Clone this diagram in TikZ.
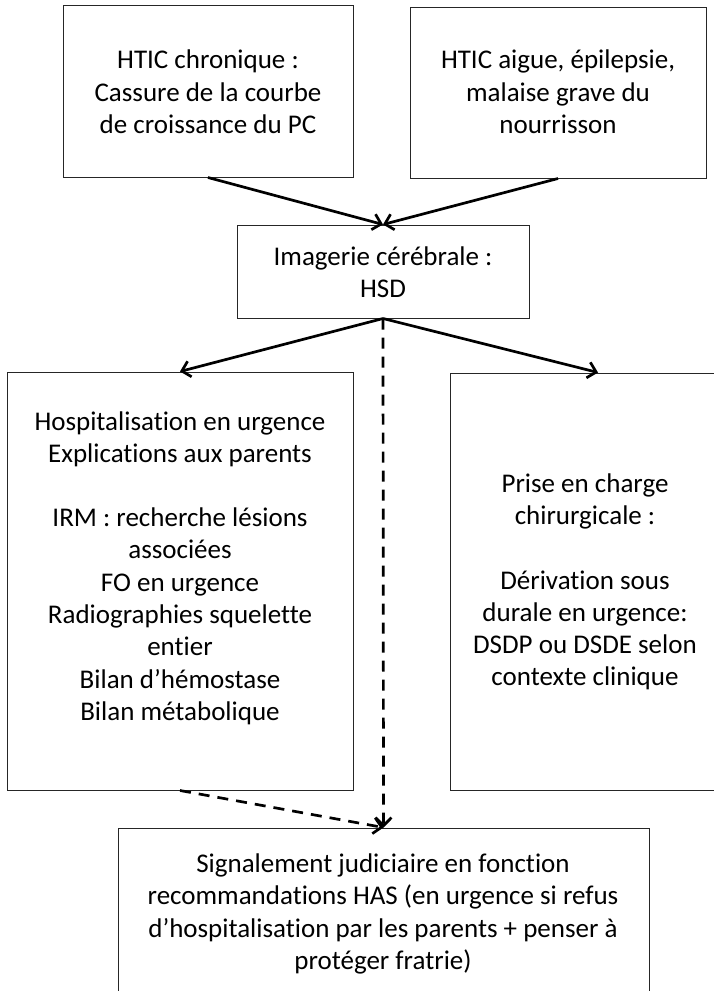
\documentclass[tikz,border=0pt]{standalone}
\usepackage{fontspec}
\setmainfont{Carlito}[Ligatures={NoCommon}]
\usetikzlibrary{arrows.meta}
\begin{document}
\begin{tikzpicture}[x=1pt,y=-1pt,
  box/.style={draw=black!85, line width=1pt, fill=white, inner sep=0pt},
  txt/.style={align=center, font=\fontsize{27}{32.3}\selectfont, inner sep=0pt},
  flow/.style={line width=2.7pt, -{Straight Barb[length=8pt,width=16pt,line width=2.7pt]}},
  maybe/.style={flow, dash pattern=on 11pt off 8pt}]
\useasboundingbox (0,0) rectangle (714,991);
\clip (0,0) rectangle (714,991);

% boxes
\node[box, minimum width=290pt, minimum height=172pt] (chron) at (208,91) {};
\node[box, minimum width=296pt, minimum height=171pt] (acute) at (558,92.5) {};
\node[box, minimum width=292pt, minimum height=93pt] (imag) at (383,271.5) {};
\node[box, minimum width=346pt, minimum height=418pt] (hosp) at (180,581) {};
\node[box, minimum width=296pt, minimum height=417pt] (chir) at (598,581.5) {};
\node[box, minimum width=531pt, minimum height=200pt] (signal) at (383.5,928) {};

% texts
\node[txt] (tchron) at (208,92) {HTIC chronique :\\Cassure de la courbe\\de croissance du PC};
\node[txt] (tacute) at (558,92) {HTIC aigue, épilepsie,\\malaise grave du\\nourrisson};
\node[txt] (timag) at (383,272) {Imagerie cérébrale :\\HSD};
\node[txt] (thosp) at (180,568) {Hospitalisation en urgence\\Explications aux parents\\[32pt]IRM : recherche lésions\\associées\\FO en urgence\\Radiographies squelette\\entier\\Bilan d’hémostase\\Bilan métabolique};
\node[txt] (tchir) at (585,582) {Prise en charge\\chirurgicale :\\[32pt]Dérivation sous\\durale en urgence:\\DSDP ou DSDE selon\\contexte clinique};
\node[txt] (tsignal) at (383,914) {Signalement judiciaire en fonction\\recommandations HAS (en urgence si refus\\d’hospitalisation par les parents + penser à\\protéger fratrie)};

% connectors
\draw[flow] (chron.south) -- (imag.north);
\draw[flow] (acute.south) -- (imag.north);
\draw[flow] (imag.south) -- (hosp.north);
\draw[flow] (imag.south) -- (chir.north);
\draw[maybe] (imag.south) -- (signal.north);
\draw[maybe] (hosp.south) -- (signal.north);
\end{tikzpicture}
\end{document}
